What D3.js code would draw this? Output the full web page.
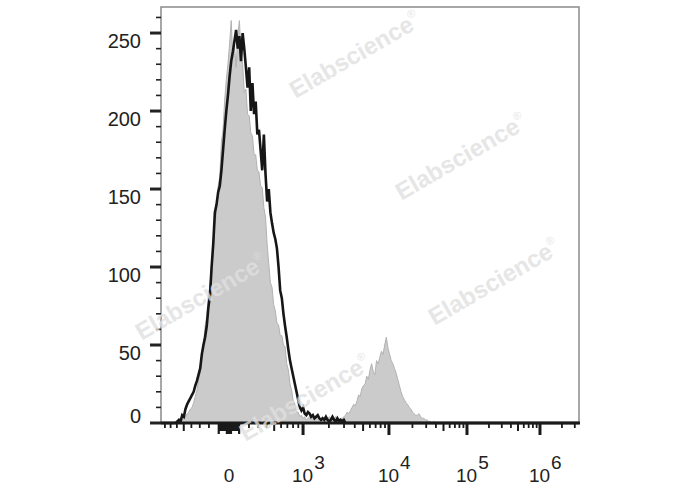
<!DOCTYPE html>
<html><head><meta charset="utf-8">
<script src="https://cdn.jsdelivr.net/npm/d3@7"></script>
<style>body{margin:0;background:#fff}</style>
</head><body><svg id="c" width="688" height="490"></svg>
<script>
// ---- data (counts per display channel, 256 channels) ----
const grayStart = 12;
const grayCounts = [1,2,3,4,6,7,9,10,13,
 17,21,28,32,43,50,62,68,82,88,
 102,108,127,136,152,158,180,188,207,220,
 230,243,258,234,242,228,248,258,238,230,
 212,214,198,197,186,184,172,172,162,161,
 152,151,138,132,115,102,90,87,76,72,
 64,63,56,56,50,49,38,34,25,21,
 14,12,7,7,4,5,3,4,2,3,
 4,2,3,2,4,3,2,3,4,2,
 3,2,4,3,2,3,4,2,3,2,
 3,4,5,7,6,8,10,12,11,14,
 18,17,22,24,25,30,28,34,38,33,
 31,40,38,42,46,44,50,55,48,44,
 40,38,35,32,28,24,20,17,15,13,
 12,10,9,7,6,5,5,6,4,3,
 3,2,2,1,1,0,1];
const blackStart = 10;
const blackCounts = [1,2,1,5,4,9,12,14,16,18,20,
 24,27,31,35,44,50,55,62,74,82,
 100,115,135,140,148,152,162,175,188,200,
 210,222,232,238,245,252,240,248,232,250,
 240,228,215,228,200,218,198,206,185,188,
 175,162,185,160,142,150,135,128,122,118,
 112,100,85,80,70,62,55,47,40,35,
 30,25,20,15,10,8,10,6,5,7,
 6,4,5,3,4,5,3,2,3,2,
 4,2,1,2,4,2,1,3,1,2,1,2];
const nChannels = 256;
const yTickLabels = [0,50,100,150,200,250];
const yMinorStep = 10;
const xLabelValues = [0, 1e3, 1e4, 1e5, 1e6];
const xLabelExps = ["", "3", "4", "5", "6"];
const watermarkText = "Elabscience";

// ---- layout ----
const L = 161, R = 579, T = 7, B = 423;
const svg = d3.select("#c");
const x = d3.scaleLinear().domain([0, nChannels]).range([L, R]);
const y = d3.scaleLinear().domain([0, 266.7]).range([B, T]);

// biexponential display transform (value -> decade units -> channel)
function biex(v){
  const a = Math.abs(v);
  if (a <= 1000) return Math.sign(v) * 3 * Math.asinh(a/500) / Math.asinh(2);
  return Math.sign(v) * Math.log10(a);
}
const dToCh = d3.scaleLinear().domain([-3,0,3,4,5,6,7]).range([-3.7,41.6,87.0,139.6,187.4,232.1,276.8]);
const xv = v => x(dToCh(biex(v)));

function full(start, arr){
  const out = new Array(nChannels + 1).fill(0);
  arr.forEach((c,i)=>{ out[start+i] = c; });
  return out.map((c,i)=>({ch:i, c}));
}
const grayData = full(grayStart, grayCounts);
const blackData = full(blackStart, blackCounts);

svg.append("clipPath").attr("id","pc").append("rect")
  .attr("x", L).attr("y", T).attr("width", R-L).attr("height", B-T+2);

const area = d3.area().x(d=>x(d.ch)).y0(y(0)).y1(d=>y(d.c));
const line = d3.line().x(d=>x(d.ch)).y(d=>y(d.c));

const g = svg.append("g").attr("clip-path","url(#pc)");
g.append("path").datum(grayData).attr("d", area)
  .attr("fill","#cbcbcb").attr("stroke","#b2b2b2").attr("stroke-width",1);
g.append("path").datum(blackData).attr("d", line)
  .attr("fill","none").attr("stroke","#161616").attr("stroke-width",2.6).attr("stroke-linejoin","miter").attr("stroke-miterlimit",3);

// frame
svg.append("path").attr("d",`M${L},${B} V${T} H${R} V${B}`)
  .attr("fill","none").attr("stroke","#8a8a8a").attr("stroke-width",1.5);
svg.append("line").attr("x1",L).attr("x2",R+1).attr("y1",B).attr("y2",B)
  .attr("stroke","#1a1a1a").attr("stroke-width",3);

// y ticks
const yMinor = d3.range(0, 261, yMinorStep).filter(v=>v%50!==0);
svg.selectAll(".ym").data(yMinor).enter().append("line")
  .attr("x1",L-5).attr("x2",L).attr("y1",d=>y(d)).attr("y2",d=>y(d))
  .attr("stroke","#222").attr("stroke-width",1.6);
svg.selectAll(".yM").data(yTickLabels).enter().append("line")
  .attr("x1",L-11).attr("x2",L).attr("y1",d=>y(d)).attr("y2",d=>y(d))
  .attr("stroke","#222").attr("stroke-width",3);
svg.selectAll(".yl").data(yTickLabels).enter().append("text")
  .attr("x",141).attr("y",d=> d===0 ? y(d) : y(d)+15)
  .attr("text-anchor","end").attr("font-family","Liberation Sans, Arial, sans-serif")
  .attr("font-size",20).attr("fill","#222").text(d=>d);

// x ticks
const xBlock = [], xMinor = [], xMed = [], xMajor = [1e3,1e4,1e5,1e6];
for (let v=10; v<=100; v+=10){ xBlock.push(v, -v); }
for (let v=200; v<=900; v+=100){ if (v===500) { xMed.push(v,-v); } else { xMinor.push(v,-v); } }
[1e3,1e4,1e5,1e6].forEach(dec=>{
  for (let k=2;k<=9;k++){ const v=k*dec; if (v>3.2e6) continue; (k===5?xMed:xMinor).push(v); }
});
function ticks(vals, len, w){
  svg.append("g").selectAll("line").data(vals.filter(v=>xv(v)>=L-1 && xv(v)<=R+1)).enter().append("line")
    .attr("x1",d=>xv(d)).attr("x2",d=>xv(d)).attr("y1",B+1).attr("y2",d=>B+(typeof len==="function"?len(d):len))
    .attr("stroke","#1a1a1a").attr("stroke-width",w);
}
ticks(xMinor, 5, 1.8);
ticks(xMed, 8, 2);
ticks(xBlock, d=>{const a=Math.abs(d); return (a>=100||a<=20)?11:8;}, 2.2);
ticks(xMajor, 12, 3);

// x labels
const xl = svg.selectAll(".xl").data(xLabelValues).enter().append("text")
  .attr("x", d=>xv(d)).attr("y", 482)
  .attr("text-anchor","middle").attr("font-family","Liberation Sans, Arial, sans-serif")
  .attr("font-size",19).attr("fill","#222");
xl.each(function(d,i){
  const t = d3.select(this);
  if (xLabelExps[i]===""){ t.text(d); }
  else {
    t.append("tspan").text("10");
    t.append("tspan").attr("dy",-13).attr("dx",1).text(xLabelExps[i]);
    t.attr("text-anchor","start").attr("x", xv(d)-11);
  }
});

// watermark
const wm = [[355,55],[461,157],[494,282],[201,297],[305,398]];
wm.forEach(([cx,cy])=>{
  const t = svg.append("text").attr("transform",`translate(${cx},${cy}) rotate(-30)`)
    .attr("text-anchor","middle").attr("font-family","Liberation Sans, Arial, sans-serif")
    .attr("font-weight","bold").attr("font-size",24).attr("fill","#e0e0e0").attr("opacity",0.78);
  t.append("tspan").attr("dy",8).text(watermarkText);
  t.append("tspan").attr("font-size",11).attr("dy",-12).attr("font-weight","normal").text("®");
});
</script></body></html>
